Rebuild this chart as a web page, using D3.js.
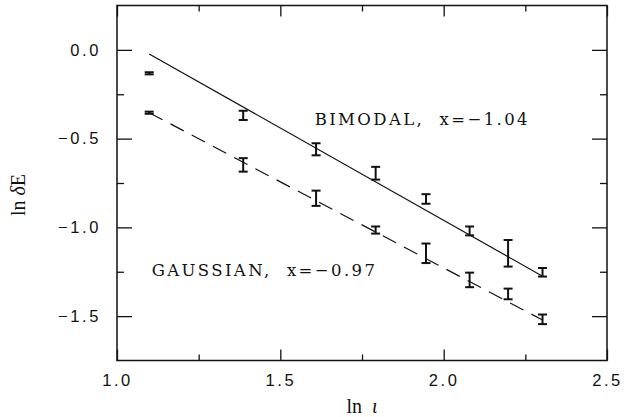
<!DOCTYPE html>
<html><head><meta charset="utf-8">
<script src="https://cdn.jsdelivr.net/npm/d3@7"></script>
<style>
html,body{margin:0;padding:0;background:#fff;}
svg{display:block;}
.tick-label{font-family:"Liberation Sans",Arial,sans-serif;font-size:16.5px;letter-spacing:2.6px;fill:#111;}
.ann{font-family:"DejaVu Serif",serif;font-size:16.5px;letter-spacing:2.4px;fill:#111;}
.axlab{font-family:"Liberation Serif","DejaVu Serif",serif;font-size:20px;fill:#111;}
</style></head>
<body>
<svg id="chart" width="631" height="417"></svg>
<script>
// ---- data ----
const lnT = [1.0986, 1.3863, 1.6094, 1.7918, 1.9459, 2.0794, 2.1972, 2.3026];
const bimodalY   = [-0.132, -0.369, -0.560, -0.695, -0.840, -1.020, -1.146, -1.253];
const bimodalErr = [0.006, 0.026, 0.034, 0.036, 0.027, 0.025, 0.075, 0.024];
const gaussianY   = [-0.354, -0.648, -0.836, -1.015, -1.146, -1.296, -1.375, -1.518];
const gaussianErr = [0.006, 0.038, 0.043, 0.020, 0.055, 0.041, 0.030, 0.027];
const fitX = [1.0986, 2.3026];
const bimodalFit = [-0.023, -1.275];
const gaussianFit = [-0.354, -1.522];
const xTicks = [1.0, 1.5, 2.0, 2.5];
const xMinor = [1.25, 1.75, 2.25];
const yTicks = [0.0, -0.5, -1.0, -1.5];
const yMinor = [-0.25, -0.75, -1.25];
const labels = [
  {text: "BIMODAL,  x=\u22121.04", x: 1.605, y: -0.425},
  {text: "GAUSSIAN,  x=\u22120.97", x: 1.106, y: -1.275}
];

// ---- layout ----
const L = 117, R = 607, T = 5.5, B = 360.5;
const x = d3.scaleLinear().domain([1.0, 2.5]).range([L, R]);
const y = d3.scaleLinear().domain([-1.75, 0.25]).range([B, T]);
const svg = d3.select("#chart");

// frame
svg.append("rect").attr("x", L).attr("y", T).attr("width", R - L).attr("height", B - T)
  .attr("fill", "none").attr("stroke", "#111").attr("stroke-width", 1.5);

// axes ticks (inward) on all sides
const fmt = d => (d < 0 ? "\u2212" : "") + Math.abs(d).toFixed(1);
const axB = d3.axisBottom(x).tickValues(xTicks).tickSize(-11).tickFormat(fmt).tickPadding(14);
const axT = d3.axisTop(x).tickValues(xTicks).tickSize(-11).tickFormat("");
const axBm = d3.axisBottom(x).tickValues(xMinor).tickSize(-6).tickFormat("");
const axTm = d3.axisTop(x).tickValues(xMinor).tickSize(-6).tickFormat("");
const axL = d3.axisLeft(y).tickValues(yTicks).tickSize(-15).tickFormat(fmt).tickPadding(16);
const axR = d3.axisRight(y).tickValues(yTicks).tickSize(-15).tickFormat("");
const axLm = d3.axisLeft(y).tickValues(yMinor).tickSize(-7).tickFormat("");
const axRm = d3.axisRight(y).tickValues(yMinor).tickSize(-7).tickFormat("");

function put(ax, tx, ty) {
  const g = svg.append("g").attr("transform", `translate(${tx},${ty})`).call(ax);
  g.select(".domain").remove();
  g.selectAll(".tick line").attr("stroke", "#111").attr("stroke-width", 1.3);
  g.selectAll(".tick text").attr("class", "tick-label").attr("font-size", null).attr("font-family", null);
  return g;
}
put(axB, 0, B);
put(axT, 0, T);
put(axBm, 0, B);
put(axTm, 0, T);
put(axL, L, 0);
put(axR, R, 0);
put(axLm, L, 0);
put(axRm, R, 0);

// fit lines
const line = d3.line().x(d => x(d[0])).y(d => y(d[1]));
svg.append("path").attr("d", line(fitX.map((v, i) => [v, bimodalFit[i]])))
  .attr("fill", "none").attr("stroke", "#111").attr("stroke-width", 1.2);
svg.append("path").attr("d", line(fitX.map((v, i) => [v, gaussianFit[i]])))
  .attr("fill", "none").attr("stroke", "#111").attr("stroke-width", 1.2)
  .attr("stroke-dasharray", "15,9");

// error bars
function errorBars(vals, errs) {
  const g = svg.append("g").attr("stroke", "#111");
  lnT.forEach((t, i) => {
    const cx = x(t), y1 = y(vals[i] + errs[i]), y2 = y(vals[i] - errs[i]);
    g.append("line").attr("x1", cx).attr("x2", cx).attr("y1", y1).attr("y2", y2).attr("stroke-width", 2);
    g.append("line").attr("x1", cx - 4.5).attr("x2", cx + 4.5).attr("y1", y1).attr("y2", y1).attr("stroke-width", 2);
    g.append("line").attr("x1", cx - 4.5).attr("x2", cx + 4.5).attr("y1", y2).attr("y2", y2).attr("stroke-width", 2);
  });
}
errorBars(bimodalY, bimodalErr);
errorBars(gaussianY, gaussianErr);

// annotations
labels.forEach(l => {
  svg.append("text").attr("class", "ann").attr("x", x(l.x)).attr("y", y(l.y))
    .style("white-space", "pre").text(l.text);
});

// axis labels
svg.append("text").attr("class", "axlab").attr("x", 362).attr("y", 413).attr("text-anchor", "middle")
  .style("white-space", "pre").html('ln  <tspan font-style="italic">\u03B9</tspan>');
svg.append("text").attr("class", "axlab").attr("transform", "translate(25,195) rotate(-90)")
  .attr("text-anchor", "middle").style("white-space", "pre").html('ln <tspan font-style="italic">\u03B4</tspan>E');
</script>
</body></html>
